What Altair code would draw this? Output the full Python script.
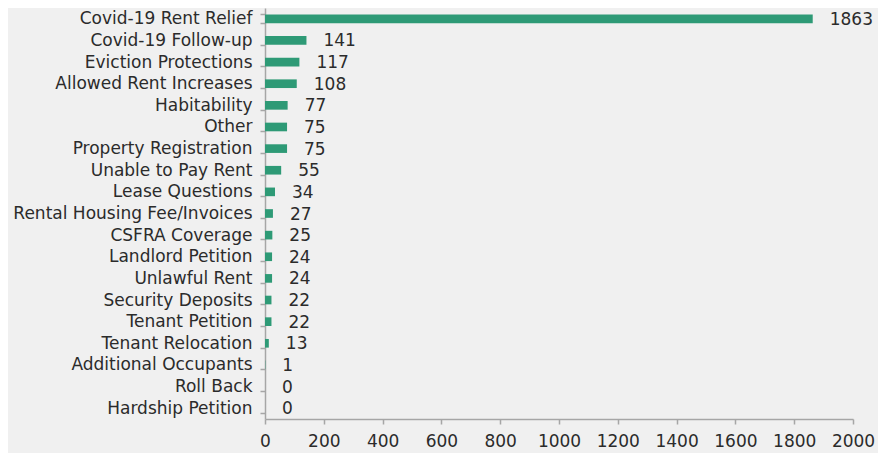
import altair as alt
import pandas as pd

categories = [
    "Covid-19 Rent Relief", "Covid-19 Follow-up", "Eviction Protections",
    "Allowed Rent Increases", "Habitability", "Other", "Property Registration",
    "Unable to Pay Rent", "Lease Questions", "Rental Housing Fee/Invoices",
    "CSFRA Coverage", "Landlord Petition", "Unlawful Rent", "Security Deposits",
    "Tenant Petition", "Tenant Relocation", "Additional Occupants", "Roll Back",
    "Hardship Petition",
]
values = [1863, 141, 117, 108, 77, 75, 75, 55, 34, 27, 25, 24, 24, 22, 22, 13, 1, 0, 0]
x_ticks = [0, 200, 400, 600, 800, 1000, 1200, 1400, 1600, 1800, 2000]

df = pd.DataFrame({"category": categories, "value": values})

FONT = "DejaVu Sans"
FS = 17
TEXT = "#2b2b2b"
AXIS = "#a6a6a6"
BAR = "#2e9a76"

y_enc = alt.Y(
    "category:N",
    sort=categories,
    title=None,
    scale=alt.Scale(paddingInner=0.6, paddingOuter=0.3),
    axis=alt.Axis(
        tickBand="extent", tickSize=5, labelPadding=8, labelFontSize=FS,
        labelFont=FONT, labelColor=TEXT, domainColor=AXIS, tickColor=AXIS,
        domainWidth=1.5, tickWidth=1.5, labelLimit=400,
    ),
)
x_enc = alt.X(
    "value:Q",
    title=None,
    scale=alt.Scale(domain=[0, 2000], nice=False),
    axis=alt.Axis(
        values=x_ticks, format="d", tickSize=5, labelPadding=9, labelFontSize=FS,
        labelFont=FONT, labelColor=TEXT, domainColor=AXIS, tickColor=AXIS,
        domainWidth=1.5, tickWidth=1.5, grid=False, labelFlush=False,
    ),
)

bars = alt.Chart(df).mark_bar(color=BAR).encode(x=x_enc, y=y_enc)
labels = alt.Chart(df).mark_text(
    align="left", baseline="middle", dx=17, dy=1, fontSize=FS, font=FONT, color=TEXT
).encode(x="value:Q", y=alt.Y("category:N", sort=categories), text="value:Q")

chart = (
    alt.layer(bars, labels)
    .properties(
        width=588, height=411, background="#f0f0f0",
        padding={"left": 257, "top": 0, "right": 25, "bottom": 34},
        autosize=alt.AutoSizeParams(type="none"),
    )
    .configure_view(stroke=None)
)

chart.save("out.html", embed_options={"renderer": "svg", "actions": False})
